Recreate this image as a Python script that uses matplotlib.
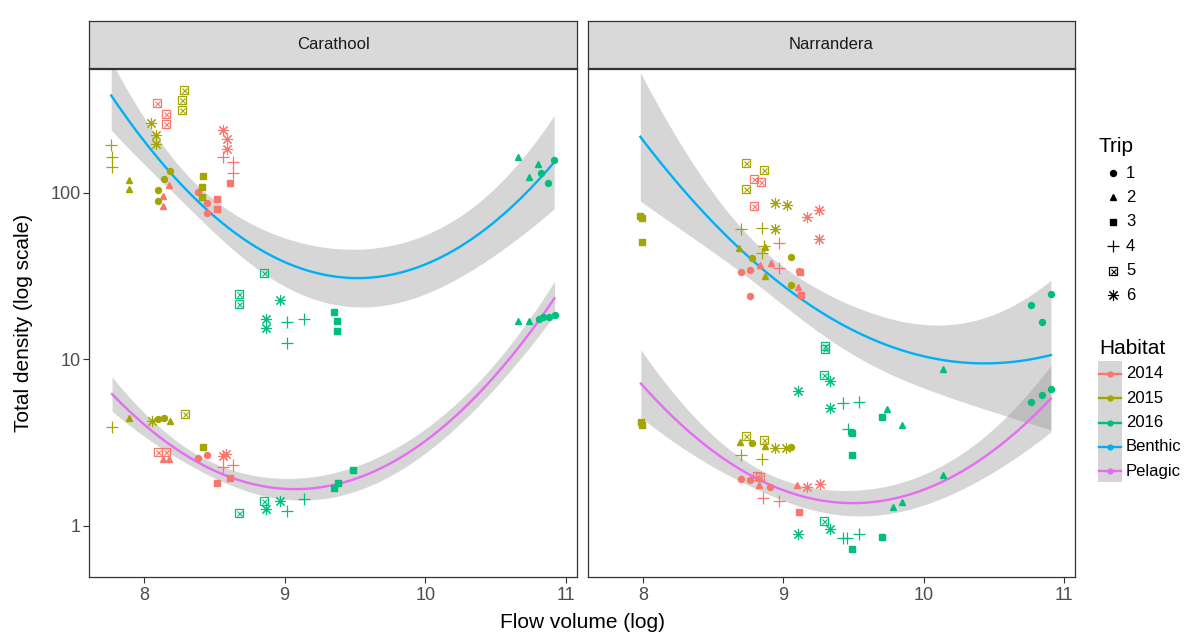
import numpy as np
import matplotlib
matplotlib.use("Agg")
import matplotlib.pyplot as plt
from matplotlib.patches import Rectangle

plt.rcParams['font.family'] = ['Liberation Sans', 'DejaVu Sans']

# ---------------- data ----------------
SITES = ["Carathool", "Narrandera"]
YEARS = ["2014", "2015", "2016"]
HABITATS = ["Benthic", "Pelagic"]
TRIPS = [1, 2, 3, 4, 5, 6]

# Carathool, benthic
CAR_BEN_2014_TRIP = [5, 5, 5, 6, 6, 6, 4, 4, 4, 2, 2, 2, 1, 1, 1, 3, 3, 3]
CAR_BEN_2014_X = [8.095, 8.157, 8.157, 8.558, 8.589, 8.589, 8.563, 8.634, 8.634,
                  8.174, 8.135, 8.135, 8.380, 8.449, 8.444, 8.520, 8.520, 8.610]
CAR_BEN_2014_Y = [349, 297, 258, 239, 210, 183, 165, 153, 132,
                  111, 96, 84, 101, 87.5, 76, 92.5, 80, 115]

CAR_BEN_2015_TRIP = [5, 5, 5, 6, 6, 6, 4, 4, 4, 2, 2, 1, 1, 1, 1, 3, 3, 3]
CAR_BEN_2015_X = [8.283, 8.271, 8.271, 8.046, 8.088, 8.088, 7.766, 7.772, 7.772,
                  7.891, 7.891, 8.181, 8.145, 8.100, 8.100, 8.418, 8.411, 8.411]
CAR_BEN_2015_Y = [414, 364, 314, 264, 222, 197, 194, 165, 143,
                  120, 105, 135, 121, 104, 90, 126, 108, 94]

CAR_BEN_2016_TRIP = [5, 5, 5, 6, 6, 6, 4, 4, 4, 3, 3, 3, 2, 2, 2, 1, 1, 1]
CAR_BEN_2016_X = [8.855, 8.674, 8.674, 8.969, 8.865, 8.865, 9.014, 9.140, 9.014,
                  9.353, 9.370, 9.370, 10.660, 10.742, 10.802, 10.825, 10.877, 10.918]
CAR_BEN_2016_Y = [33.0, 24.7, 21.4, 22.9, 17.5, 15.5, 16.9, 17.5, 12.6,
                  19.4, 17.1, 14.9, 165, 125, 149, 131, 115, 157]

# Carathool, pelagic
CAR_PEL_2014_TRIP = [5, 5, 2, 2, 1, 1, 6, 6, 4, 4, 3, 3]
CAR_PEL_2014_X = [8.100, 8.155, 8.135, 8.174, 8.380, 8.449, 8.563, 8.580, 8.563, 8.634, 8.518, 8.610]
CAR_PEL_2014_Y = [2.80, 2.80, 2.51, 2.51, 2.56, 2.66, 2.64, 2.70, 2.25, 2.32, 1.82, 1.93]

CAR_PEL_2015_TRIP = [4, 2, 2, 6, 1, 1, 5, 3]
CAR_PEL_2015_X = [7.772, 7.891, 8.183, 8.053, 8.100, 8.145, 8.290, 8.418]
CAR_PEL_2015_Y = [3.93, 4.48, 4.30, 4.30, 4.42, 4.43, 4.73, 3.00]

CAR_PEL_2016_TRIP = [3, 3, 3, 5, 5, 6, 6, 4, 4, 2, 2, 1, 1, 1, 1]
CAR_PEL_2016_X = [9.484, 9.353, 9.378, 8.850, 8.674, 8.969, 8.865, 9.140, 9.014,
                  10.660, 10.742, 10.811, 10.838, 10.882, 10.920]
CAR_PEL_2016_Y = [2.16, 1.70, 1.80, 1.41, 1.20, 1.41, 1.26, 1.45, 1.23,
                  17.1, 17.1, 17.6, 18.0, 18.1, 18.4]

# Narrandera, benthic
NAR_BEN_2014_TRIP = [5, 5, 5, 6, 6, 6, 4, 4, 2, 2, 2, 1, 1, 1, 1, 3, 3]
NAR_BEN_2014_X = [8.793, 8.840, 8.793, 9.256, 9.168, 9.256, 8.973, 8.973, 8.835, 8.912, 9.104,
                  8.702, 8.764, 8.764, 9.115, 9.120, 9.125]
NAR_BEN_2014_Y = [121, 116, 84, 79.1, 72.1, 53.0, 50.2, 35.6, 37.0, 37.9, 27.1,
                  33.5, 34.6, 24.2, 34.0, 33.4, 24.3]

NAR_BEN_2015_TRIP = [3, 3, 3, 5, 5, 5, 6, 6, 6, 4, 4, 4, 4, 2, 2, 2, 1, 1, 1]
NAR_BEN_2015_X = [7.981, 7.990, 7.993, 8.738, 8.864, 8.738, 8.944, 9.026, 8.944,
                  8.702, 8.850, 8.864, 8.850, 8.686, 8.871, 8.871, 8.776, 9.056, 9.056]
NAR_BEN_2015_Y = [73, 71, 50.4, 150.6, 137, 106, 86.8, 84.8, 61.1,
                  61.1, 61.7, 48.2, 43.5, 46.6, 47.3, 31.8, 40.6, 41.0, 27.9]

NAR_BEN_2016_TRIP = [5, 5, 5, 6, 6, 6, 4, 4, 4, 3, 3, 3, 2, 2, 2, 1, 1, 1]
NAR_BEN_2016_X = [9.298, 9.298, 9.293, 9.336, 9.108, 9.336, 9.424, 9.543, 9.464,
                  9.489, 9.489, 9.707, 9.738, 9.845, 10.141, 10.908, 10.766, 10.846]
NAR_BEN_2016_Y = [12.0, 11.5, 8.05, 7.46, 6.46, 5.09, 5.45, 5.58, 3.85,
                  3.64, 2.66, 4.51, 5.07, 4.05, 8.71, 24.8, 21.1, 16.7]

# Narrandera, pelagic
NAR_PEL_2014_TRIP = [1, 1, 1, 5, 5, 2, 2, 6, 6, 4, 4, 3]
NAR_PEL_2014_X = [8.700, 8.762, 8.907, 8.812, 8.835, 8.830, 9.101, 9.168, 9.263, 8.859, 8.973, 9.113]
NAR_PEL_2014_Y = [1.91, 1.88, 1.72, 2.00, 1.96, 1.77, 1.77, 1.72, 1.78, 1.47, 1.42, 1.22]

NAR_PEL_2015_TRIP = [3, 3, 5, 5, 2, 2, 1, 1, 6, 6, 4, 4]
NAR_PEL_2015_X = [7.985, 7.993, 8.738, 8.864, 8.691, 8.869, 8.776, 9.056, 8.942, 9.023, 8.700, 8.852]
NAR_PEL_2015_Y = [4.20, 4.05, 3.47, 3.29, 3.21, 3.03, 3.15, 3.00, 2.92, 2.92, 2.67, 2.51]

NAR_PEL_2016_TRIP = [5, 6, 6, 4, 4, 4, 3, 3, 2, 2, 2, 1, 1, 1]
NAR_PEL_2016_X = [9.293, 9.336, 9.108, 9.424, 9.453, 9.543, 9.707, 9.489,
                  9.785, 9.845, 10.141, 10.908, 10.846, 10.766]
NAR_PEL_2016_Y = [1.07, 0.955, 0.896, 0.844, 0.851, 0.892, 0.856, 0.728,
                  1.30, 1.39, 2.02, 6.61, 6.15, 5.53]

X_TICKS = [8, 9, 10, 11]
Y_TICKS = [1, 10, 100]
Y_TICK_LABELS = ["1", "10", "100"]

# ---------------- styling ----------------
YEAR_COLORS = {"2014": "#F8766D", "2015": "#A3A500", "2016": "#00BF7D"}
HAB_COLORS = {"Benthic": "#00B0F6", "Pelagic": "#E76BF3"}

GROUPS = {
    ("Carathool", "Benthic", "2014"): (CAR_BEN_2014_X, CAR_BEN_2014_Y, CAR_BEN_2014_TRIP),
    ("Carathool", "Benthic", "2015"): (CAR_BEN_2015_X, CAR_BEN_2015_Y, CAR_BEN_2015_TRIP),
    ("Carathool", "Benthic", "2016"): (CAR_BEN_2016_X, CAR_BEN_2016_Y, CAR_BEN_2016_TRIP),
    ("Carathool", "Pelagic", "2014"): (CAR_PEL_2014_X, CAR_PEL_2014_Y, CAR_PEL_2014_TRIP),
    ("Carathool", "Pelagic", "2015"): (CAR_PEL_2015_X, CAR_PEL_2015_Y, CAR_PEL_2015_TRIP),
    ("Carathool", "Pelagic", "2016"): (CAR_PEL_2016_X, CAR_PEL_2016_Y, CAR_PEL_2016_TRIP),
    ("Narrandera", "Benthic", "2014"): (NAR_BEN_2014_X, NAR_BEN_2014_Y, NAR_BEN_2014_TRIP),
    ("Narrandera", "Benthic", "2015"): (NAR_BEN_2015_X, NAR_BEN_2015_Y, NAR_BEN_2015_TRIP),
    ("Narrandera", "Benthic", "2016"): (NAR_BEN_2016_X, NAR_BEN_2016_Y, NAR_BEN_2016_TRIP),
    ("Narrandera", "Pelagic", "2014"): (NAR_PEL_2014_X, NAR_PEL_2014_Y, NAR_PEL_2014_TRIP),
    ("Narrandera", "Pelagic", "2015"): (NAR_PEL_2015_X, NAR_PEL_2015_Y, NAR_PEL_2015_TRIP),
    ("Narrandera", "Pelagic", "2016"): (NAR_PEL_2016_X, NAR_PEL_2016_Y, NAR_PEL_2016_TRIP),
}

BAND = "#999999"
BAND_ALPHA = 0.4
DARK = "#333333"
TICK_COLOR = "#4D4D4D"


def t_quantile(df, p=0.975):
    z = 1.959963984540054
    return (z + (z**3 + z) / (4 * df) + (5 * z**5 + 16 * z**3 + 3 * z) / (96 * df**2)
            + (3 * z**7 + 19 * z**5 + 17 * z**3 - 15 * z) / (384 * df**3))


def quad_fit(x, y, n=80):
    x = np.asarray(x, float)
    ly = np.log10(np.asarray(y, float))
    X = np.column_stack([np.ones_like(x), x, x ** 2])
    beta, *_ = np.linalg.lstsq(X, ly, rcond=None)
    res = ly - X @ beta
    dof = len(x) - 3
    s2 = res @ res / dof
    cov = np.linalg.inv(X.T @ X)
    xg = np.linspace(x.min(), x.max(), n)
    G = np.column_stack([np.ones_like(xg), xg, xg ** 2])
    fit = G @ beta
    se = np.sqrt(s2 * np.einsum('ij,jk,ik->i', G, cov, G))
    t = t_quantile(dof)
    return xg, 10 ** fit, 10 ** (fit - t * se), 10 ** (fit + t * se)


def draw_points(ax, x, y, trips, color):
    x = np.asarray(x); y = np.asarray(y); trips = np.asarray(trips)
    for tr in TRIPS:
        m = trips == tr
        if not m.any():
            continue
        xs, ys = x[m], y[m]
        if tr == 1:
            ax.plot(xs, ys, 'o', ms=4.3, color=color, mec=color, ls='none', zorder=4)
        elif tr == 2:
            ax.plot(xs, ys, '^', ms=4.8, color=color, mec=color, ls='none', zorder=4)
        elif tr == 3:
            ax.plot(xs, ys, 's', ms=4.2, color=color, mec=color, ls='none', zorder=4)
        elif tr == 4:
            ax.plot(xs, ys, '+', ms=8, mew=0.9, color=color, ls='none', zorder=4)
        elif tr == 5:
            ax.plot(xs, ys, 's', ms=5.6, mfc='none', mec=color, mew=0.9, ls='none', zorder=4)
            ax.plot(xs, ys, 'x', ms=3.6, mec=color, mew=0.8, ls='none', zorder=4)
        elif tr == 6:
            ax.plot(xs, ys, marker=(8, 2, 0), ms=8, mec=color, mew=0.8, ls='none', zorder=4)


W, H = 1195, 639
fig = plt.figure(figsize=(W / 100, H / 100), dpi=100)


def px_axes(l, t, r, b):
    return fig.add_axes([l / W, 1 - b / H, (r - l) / W, (b - t) / H])


PANELS = {"Carathool": (89, 69, 577, 577), "Narrandera": (588, 69, 1075, 577)}
XLIM = (7.608, 11.08)
YLIM = (0.494, 555)

for i, site in enumerate(SITES):
    l, t, r, b = PANELS[site]
    ax = px_axes(l, t, r, b)
    ax.set_xscale('linear')
    ax.set_yscale('log')
    ax.set_xlim(*XLIM)
    ax.set_ylim(*YLIM)
    # smooths
    for hab in HABITATS:
        xs, ys = [], []
        for yr in YEARS:
            gx, gy, _ = GROUPS[(site, hab, yr)]
            xs += list(gx); ys += list(gy)
        xg, fit, lo, hi = quad_fit(xs, ys)
        ax.fill_between(xg, lo, hi, color=BAND, alpha=BAND_ALPHA, lw=0, zorder=2)
        ax.plot(xg, fit, color=HAB_COLORS[hab], lw=1.7, zorder=3)
    # points
    for hab in HABITATS:
        for yr in YEARS:
            gx, gy, gt = GROUPS[(site, hab, yr)]
            draw_points(ax, gx, gy, gt, YEAR_COLORS[yr])
    ax.set_xticks(X_TICKS)
    ax.set_xticklabels([str(v) for v in X_TICKS])
    ax.yaxis.set_minor_locator(matplotlib.ticker.NullLocator())
    ax.set_yticks(Y_TICKS)
    if i == 0:
        ax.set_yticklabels(Y_TICK_LABELS)
        ax.tick_params(axis='y', length=4, width=0.8, color=DARK, labelsize=13,
                       labelcolor=TICK_COLOR, pad=2)
    else:
        ax.tick_params(axis='y', left=False, labelleft=False)
    ax.tick_params(axis='x', length=4, width=0.8, color=DARK, labelsize=13,
                   labelcolor=TICK_COLOR, pad=3)
    for sp in ax.spines.values():
        sp.set_color(DARK)
        sp.set_linewidth(0.9)
    # strip
    sax = px_axes(l, 21, r, 68)
    sax.set_xticks([]); sax.set_yticks([])
    sax.set_facecolor("#D9D9D9")
    for sp in sax.spines.values():
        sp.set_color(DARK)
        sp.set_linewidth(0.9)
    sax.text(0.5, 0.5, site, ha='center', va='center', fontsize=12, color="#1A1A1A",
             transform=sax.transAxes)

fig.text(582 / W, 1 - 622 / H, "Flow volume (log)", ha='center', va='center', fontsize=15)
fig.text(24 / W, 1 - 323 / H, "Total density (log scale)", ha='center', va='center',
         rotation=90, fontsize=15)

# ---------------- legends ----------------
lax = fig.add_axes([0, 0, 1, 1], zorder=10)
lax.set_xlim(0, W); lax.set_ylim(H, 0); lax.axis('off')

lax.text(1099, 146, "Trip", ha='left', va='center', fontsize=15)
trip_y0, trip_dy = 173, 24.4
for k, tr in enumerate(TRIPS):
    yy = trip_y0 + k * trip_dy
    draw_points(lax, [1113], [yy], [tr], "black")
    lax.text(1126, yy, str(tr), ha='left', va='center', fontsize=12)

lax.text(1099, 349, "Habitat", ha='left', va='center', fontsize=15)
hab_labels = YEARS + HABITATS
hab_cols = [YEAR_COLORS[y] for y in YEARS] + [HAB_COLORS[h] for h in HABITATS]
lax.add_patch(Rectangle((1098, 361), 24.5, 121, facecolor=BAND, alpha=BAND_ALPHA, lw=0))
for k, (lab, col) in enumerate(zip(hab_labels, hab_cols)):
    yy = 374 + k * 24.3
    lax.plot([1099, 1121], [yy, yy], color=col, lw=1.7)
    lax.plot([1110], [yy], 'o', ms=3.5, color=col)
    lax.text(1126, yy, lab, ha='left', va='center', fontsize=12)

fig.savefig("out.png", dpi=100)
